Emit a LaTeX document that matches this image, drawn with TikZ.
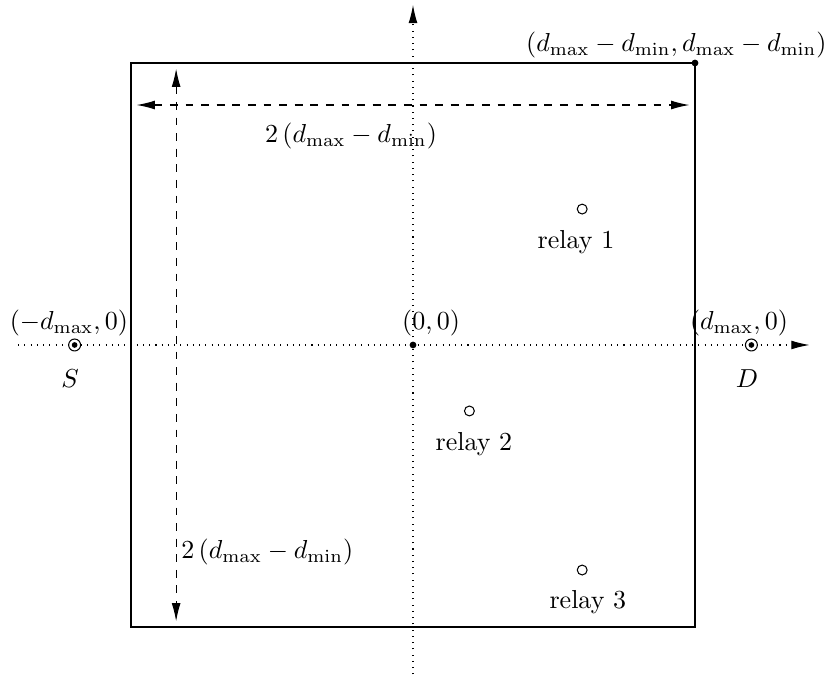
\documentclass[tikz,border=0pt]{standalone}
\usetikzlibrary{arrows.meta}
\begin{document}
\begin{tikzpicture}[
  x=0.7624cm, y=0.7624cm,
  axis/.style={dotted, -{Latex[length=7pt,width=3.4pt]}},
  span/.style={dashed, {Latex[length=7pt,width=3.4pt]}-{Latex[length=7pt,width=3.4pt]}},
  terminal/.style={circle, draw, fill=white, inner sep=0pt, minimum size=4.6pt},
  relay/.style={circle, draw, fill=white, inner sep=0pt, minimum size=3.8pt},
  spot/.style={circle, fill, inner sep=0pt, minimum size=2.6pt}
]
\useasboundingbox (-7.323,-5.940) rectangle (7.447,6.117);

% Axes
\coordinate (xstart) at (-7,0);
\coordinate (xend)   at (7.03,0);
\coordinate (ystart) at (0,-5.95);
\coordinate (yend)   at (0,6.03);
\draw[axis] (xstart) -- (xend);
\draw[axis] (ystart) -- (yend);

% Square region
\coordinate (sw) at (-5,-5);
\coordinate (ne) at (5,5);
\draw (sw) rectangle (ne);

% Width and height of the region
\coordinate (hleft)  at (-4.9,4.255);
\coordinate (hright) at (4.9,4.255);
\coordinate (vtop)   at (-4.2,4.9);
\coordinate (vbot)   at (-4.2,-4.9);
\draw[span] (hleft) -- (hright);
\draw[span] (vtop) -- (vbot);
\node (hlen) at (-1.10,3.71) {$2\left(d_{\max}-d_{\min}\right)$};
\node[anchor=west] (vlen) at (-4.27,-3.67) {$2\left(d_{\max}-d_{\min}\right)$};

% Source and destination
\node[terminal] (src) at (-6,0) {};
\node[terminal] (dst) at (6,0) {};
\fill (src) circle (1.1pt);
\fill (dst) circle (1.1pt);
\node[anchor=south] (srcpos) at (-6.10,0) {$(-d_{\max},0)$};
\node[anchor=south] (dstpos) at (5.78,0) {$(d_{\max},0)$};
\node (srcname) at (-6.08,-0.59) {$S$};
\node (dstname) at (5.92,-0.59) {$D$};

% Origin and corner
\node[spot] (orig) at (0,0) {};
\node[anchor=south] (origpos) at (0.32,0) {$(0,0)$};
\node[spot] (corner) at (5,5) {};
\node (cornerpos) at (4.67,5.32) {$(d_{\max}-d_{\min},d_{\max}-d_{\min})$};

% Relays
\node[relay] (r1) at (3,2.41) {};
\node[relay] (r2) at (1,-1.17) {};
\node[relay] (r3) at (3,-3.99) {};
\node (r1name) at (2.89,1.83) {relay 1};
\node (r2name) at (1.08,-1.76) {relay 2};
\node (r3name) at (3.10,-4.56) {relay 3};

\end{tikzpicture}
\end{document}
